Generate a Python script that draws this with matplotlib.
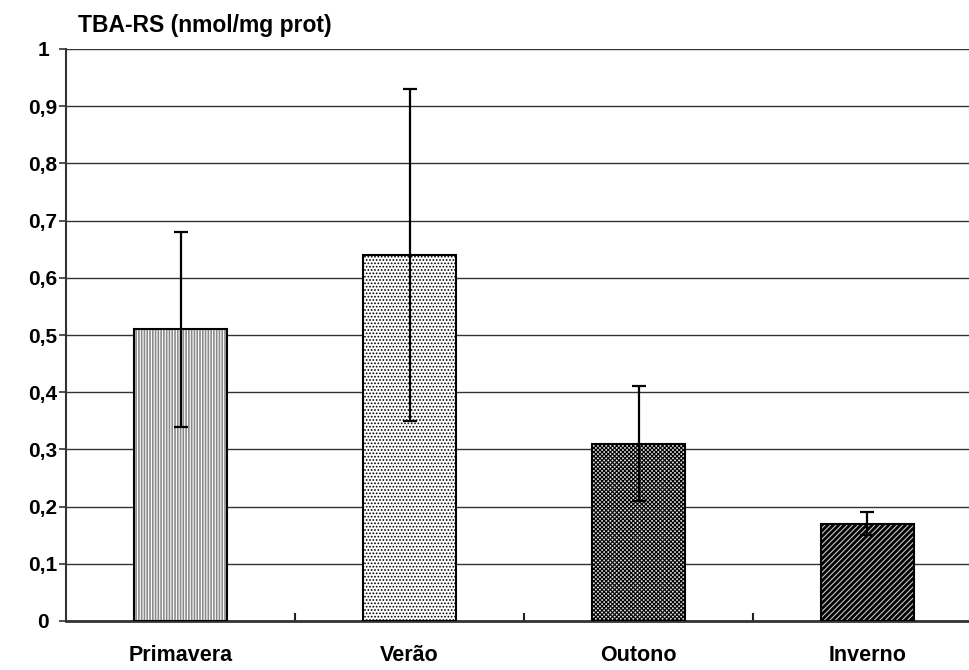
import matplotlib
matplotlib.use("Agg")
import matplotlib.pyplot as plt
import numpy as np

categories = ["Primavera", "Verão", "Outono", "Inverno"]
values = [0.51, 0.64, 0.31, 0.17]
errors = [0.17, 0.29, 0.10, 0.02]
yticks = [0, 0.1, 0.2, 0.3, 0.4, 0.5, 0.6, 0.7, 0.8, 0.9, 1.0]
ytick_labels = ["0", "0,1", "0,2", "0,3", "0,4", "0,5", "0,6", "0,7", "0,8", "0,9", "1"]
ylabel = "TBA-RS (nmol/mg prot)"

plt.rcParams['font.family'] = ['Liberation Sans', 'DejaVu Sans']
plt.rcParams['hatch.linewidth'] = 0.8

W, H = 969, 670
fig = plt.figure(figsize=(W / 100, H / 100), dpi=100)
left, right, top, bottom = 66, 982, 49, 621
ax = fig.add_axes([left / W, (H - bottom) / H, (right - left) / W, (bottom - top) / H])

x = np.arange(len(categories))
width = 0.41
faces = ['#8a8a8a', 'white', '#dddddd', 'black']
hatch_cols = ['white', 'black', 'black', '#c8c8c8']
hatches = ['||||||', '.....', 'xxxxxxxx', '//////']

for i in range(len(categories)):
    ax.bar(x[i], values[i], width, color=faces[i], edgecolor=hatch_cols[i],
           hatch=hatches[i], linewidth=0, zorder=2)
    ax.bar(x[i], values[i], width, facecolor='none', edgecolor='black',
           linewidth=1.5, zorder=3)

ax.errorbar(x, values, yerr=errors, fmt='none', ecolor='black', elinewidth=1.6,
            capsize=5, capthick=1.6, zorder=4)

ax.set_xlim(-0.5, len(categories) - 0.5)
ax.set_ylim(0, 1)
ax.set_yticks(yticks)
ax.set_yticklabels(ytick_labels, fontsize=15, fontweight='bold', ha='center')
ax.set_xticks(x)
ax.set_xticklabels(categories, fontsize=15.5, fontweight='bold')
ax.set_xticks(np.arange(len(categories)) + 0.5, minor=True)
ax.tick_params(axis='x', which='major', length=0, pad=17)
ax.tick_params(axis='x', which='minor', length=6, width=1.5, direction='in', color='#222222')
ax.tick_params(axis='y', which='major', length=5, width=1.2, direction='out', pad=11.5, color='#333333')

ax.yaxis.grid(True, color='#333333', linewidth=1.0, zorder=0)
ax.set_axisbelow(True)
for s in ['top', 'right']:
    ax.spines[s].set_visible(False)
ax.spines['left'].set_color('#333333')
ax.spines['left'].set_linewidth(1.5)
ax.spines['bottom'].set_color('#333333')
ax.spines['bottom'].set_linewidth(2.0)

fig.text(78 / W, 1 - 32 / H, ylabel, fontsize=16.5, fontweight='bold', va='baseline', ha='left')

fig.savefig("out.png", dpi=100)
